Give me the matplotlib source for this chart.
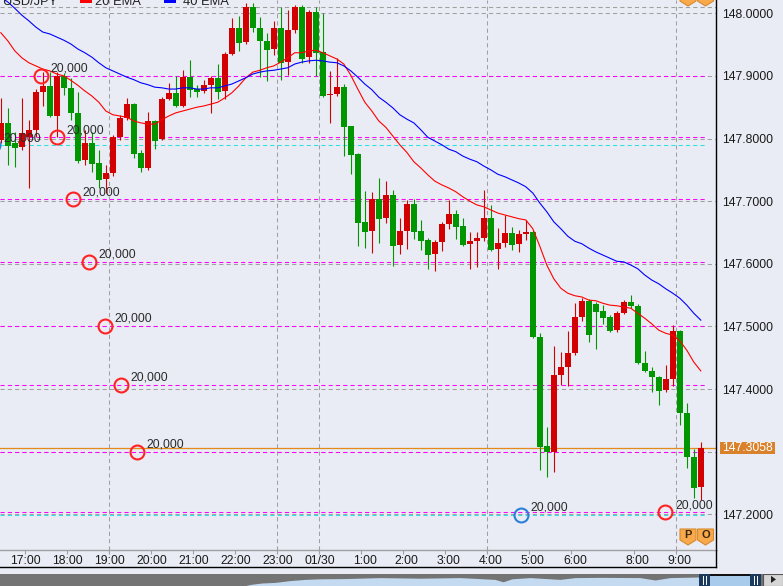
import matplotlib
matplotlib.use('Agg')
import matplotlib.pyplot as plt
import matplotlib.transforms as mtransforms
from matplotlib.patches import Polygon, Rectangle
from matplotlib.lines import Line2D
import numpy as np

plt.rcParams['font.family'] = ['Liberation Sans', 'DejaVu Sans']

# ---- 10 minute USD/JPY candles, 16:20 -> 9:30 (7:00-7:20 has no bars) ----
opens = [
    147.798, 147.825, 147.793, 147.786, 147.802, 147.814, 147.874, 147.884, 147.836, 147.900,
    147.881, 147.841, 147.766, 147.793, 147.761, 147.735, 147.745, 147.802, 147.833, 147.855,
    147.777, 147.753, 147.828, 147.799, 147.863, 147.873, 147.852, 147.898, 147.879, 147.876,
    147.885, 147.897, 147.876, 147.935, 147.976, 147.954, 148.010, 147.976, 147.956, 147.943,
    147.976, 147.922, 147.973, 148.010, 147.930, 148.002, 147.938, 147.870, 147.871, 147.882,
    147.820, 147.775, 147.667, 147.652, 147.703, 147.673, 147.710, 147.630, 147.652, 147.695,
    147.652, 147.638, 147.616, 147.635, 147.664, 147.680, 147.660, 147.632, 147.636, 147.641,
    147.673, 147.624, 147.633, 147.649, 147.632, 147.648, 147.651, 147.483, 147.309, 147.299,
    147.422, 147.435, 147.458, 147.515, 147.541, 147.536, 147.525, 147.515, 147.494, 147.521,
    147.539, 147.533, 147.442, 147.429, 147.419, 147.398, 147.416, 147.493, 147.362, 147.291,
    147.244]
highs = [
    147.865, 147.849, 147.810, 147.865, 147.830, 147.879, 147.906, 147.906, 147.906, 147.905,
    147.897, 147.874, 147.814, 147.810, 147.782, 147.758, 147.806, 147.838, 147.865, 147.857,
    147.782, 147.842, 147.830, 147.866, 147.889, 147.900, 147.909, 147.925, 147.885, 147.893,
    147.900, 147.919, 147.938, 147.992, 147.996, 148.016, 148.016, 147.994, 147.969, 147.988,
    148.010, 148.005, 148.013, 148.013, 148.005, 148.010, 148.000, 147.908, 147.929, 147.887,
    147.820, 147.777, 147.716, 147.715, 147.737, 147.732, 147.718, 147.673, 147.702, 147.703,
    147.670, 147.641, 147.638, 147.667, 147.702, 147.686, 147.673, 147.651, 147.651, 147.718,
    147.694, 147.657, 147.678, 147.659, 147.654, 147.670, 147.654, 147.489, 147.339, 147.469,
    147.459, 147.493, 147.537, 147.545, 147.544, 147.539, 147.534, 147.518, 147.525, 147.542,
    147.550, 147.536, 147.461, 147.435, 147.421, 147.438, 147.502, 147.494, 147.378, 147.304,
    147.315]
lows = [
    147.793, 147.758, 147.755, 147.782, 147.721, 147.802, 147.852, 147.835, 147.802, 147.870,
    147.830, 147.761, 147.758, 147.747, 147.721, 147.713, 147.740, 147.798, 147.830, 147.769,
    147.747, 147.750, 147.783, 147.798, 147.861, 147.850, 147.850, 147.866, 147.866, 147.873,
    147.841, 147.863, 147.863, 147.933, 147.940, 147.951, 147.970, 147.898, 147.892, 147.933,
    147.893, 147.901, 147.969, 147.921, 147.921, 147.900, 147.867, 147.825, 147.868, 147.772,
    147.743, 147.628, 147.625, 147.617, 147.633, 147.665, 147.596, 147.616, 147.624, 147.640,
    147.622, 147.592, 147.588, 147.620, 147.656, 147.640, 147.628, 147.592, 147.595, 147.636,
    147.620, 147.592, 147.627, 147.622, 147.619, 147.638, 147.482, 147.271, 147.260, 147.268,
    147.406, 147.405, 147.454, 147.509, 147.475, 147.464, 147.504, 147.491, 147.491, 147.520,
    147.529, 147.440, 147.427, 147.395, 147.374, 147.395, 147.405, 147.343, 147.274, 147.226,
    147.223]
closes = [
    147.825, 147.788, 147.785, 147.809, 147.814, 147.874, 147.884, 147.836, 147.900, 147.881,
    147.841, 147.764, 147.793, 147.759, 147.734, 147.745, 147.802, 147.833, 147.855, 147.775,
    147.753, 147.828, 147.796, 147.863, 147.873, 147.852, 147.898, 147.878, 147.874, 147.885,
    147.897, 147.874, 147.935, 147.976, 147.953, 148.010, 147.976, 147.956, 147.941, 147.976,
    147.921, 147.973, 148.010, 147.927, 148.002, 147.937, 147.868, 147.871, 147.882, 147.818,
    147.774, 147.665, 147.651, 147.703, 147.672, 147.710, 147.628, 147.652, 147.695, 147.651,
    147.636, 147.614, 147.635, 147.664, 147.680, 147.659, 147.630, 147.636, 147.641, 147.673,
    147.622, 147.633, 147.649, 147.630, 147.648, 147.651, 147.483, 147.307, 147.299, 147.422,
    147.435, 147.458, 147.515, 147.541, 147.486, 147.523, 147.513, 147.493, 147.521, 147.539,
    147.533, 147.442, 147.429, 147.419, 147.397, 147.416, 147.493, 147.362, 147.291, 147.242,
    147.3058]

ema20 = [
    147.969, 147.956, 147.940, 147.929, 147.921, 147.916, 147.911, 147.908, 147.903, 147.900,
    147.893, 147.885, 147.876, 147.868, 147.858, 147.844, 147.838, 147.836, 147.834, 147.828,
    147.825, 147.823, 147.823, 147.830, 147.836, 147.841, 147.844, 147.847, 147.850, 147.852,
    147.855, 147.858, 147.865, 147.873, 147.884, 147.897, 147.906, 147.909, 147.913, 147.916,
    147.922, 147.929, 147.937, 147.937, 147.940, 147.941, 147.937, 147.932, 147.927, 147.919,
    147.901, 147.879, 147.858, 147.844, 147.828, 147.818, 147.804, 147.790, 147.778, 147.763,
    147.753, 147.742, 147.732, 147.726, 147.721, 147.715, 147.707, 147.700, 147.694, 147.691,
    147.686, 147.681, 147.678, 147.675, 147.672, 147.670, 147.656, 147.628, 147.598, 147.576,
    147.561, 147.553, 147.549, 147.547, 147.542, 147.541, 147.537, 147.534, 147.533, 147.531,
    147.529, 147.521, 147.513, 147.504, 147.494, 147.489, 147.486, 147.477, 147.462, 147.443,
    147.429]
ema40 = [
    148.026, 148.018, 148.008, 147.997, 147.988, 147.978, 147.970, 147.967, 147.962, 147.957,
    147.951, 147.943, 147.937, 147.930, 147.921, 147.913, 147.908, 147.903, 147.898, 147.894,
    147.889, 147.886, 147.882, 147.881, 147.879, 147.879, 147.881, 147.881, 147.879, 147.879,
    147.881, 147.881, 147.884, 147.887, 147.892, 147.897, 147.903, 147.906, 147.908, 147.909,
    147.911, 147.913, 147.919, 147.922, 147.924, 147.925, 147.924, 147.922, 147.921, 147.916,
    147.908, 147.898, 147.887, 147.878, 147.866, 147.858, 147.849, 147.838, 147.831, 147.825,
    147.814, 147.802, 147.796, 147.790, 147.783, 147.779, 147.772, 147.767, 147.763, 147.756,
    147.750, 147.743, 147.739, 147.734, 147.729, 147.723, 147.713, 147.697, 147.683, 147.667,
    147.656, 147.644, 147.636, 147.632, 147.625, 147.619, 147.614, 147.609, 147.604, 147.603,
    147.598, 147.592, 147.582, 147.574, 147.568, 147.560, 147.553, 147.545, 147.534, 147.521,
    147.510]

# order lines and fills
sell_levels = [147.900, 147.802, 147.703, 147.603, 147.501, 147.407, 147.300, 147.203]
pos_levels = [147.789, 147.199]
fill_bar = [5.7, 8.0, 10.27, 12.56, 14.84, 17.13, 19.41, 94.9, 74.27, -1.1]
fill_price = [147.900, 147.802, 147.703, 147.603, 147.501, 147.407, 147.300, 147.203, 147.199, 147.789]
fill_side = ['r', 'r', 'r', 'r', 'r', 'r', 'r', 'r', 'b', 'b']
fill_qty = '20,000'

price_ticks = [147.2, 147.3, 147.4, 147.5, 147.6, 147.7, 147.8, 147.9, 148.0]
label_times = ['17:00', '18:00', '19:00', '20:00', '21:00', '22:00', '23:00', '0:00',
               '1:00', '2:00', '3:00', '4:00', '5:00', '6:00', '8:00', '9:00']
grid_times = ['19:00', '23:00', '0:00', '4:00', '9:00']

# navigator strip profile (overview of the whole history)
nav_pos = [0, 243, 252, 262, 275, 290, 305, 320, 345, 380, 420, 460, 495, 503, 512,
           530, 560, 575, 600, 640, 655, 670, 699]
nav_level = [0, 0, 0.15, 0.25, 0.3, 0.45, 0.55, 0.6, 0.62, 0.7, 0.65, 0.7, 0.55, 0.35, 0.6,
             0.7, 0.55, 0.7, 0.72, 0.7, 0.5, 0.7, 0.75]

# bar times
times = []
h, m = 16, 20
while len(times) < len(opens):
    if not (h == 7 and m < 30):
        times.append('%d:%02d' % (h, m))
    m += 10
    if m == 60:
        m = 0
        h = (h + 1) % 24

W, H = 783, 586
PR, PB = 716, 550
BG = '#e9ecf4'
RED, GREEN = '#d20000', '#009600'
PX = 72 / 100.0   # one pixel in points

fig = plt.figure(figsize=(W / 100, H / 100), dpi=100, facecolor=BG)
ax = fig.add_axes([0, (H - PB) / H, PR / W, PB / H], facecolor=BG)
ax.set_xlim(-0.114, 102.17)
ax.set_ylim(147.1430, 148.0212)

for s in ['top', 'left']:
    ax.spines[s].set_visible(False)
ax.spines['bottom'].set_color('#a0a0a0')
ax.spines['right'].set_color('#000000')
ax.spines['bottom'].set_linewidth(1.0)
ax.spines['right'].set_linewidth(1.0)

dash = (0, (4, 3))
for p in price_ticks + [148.0096]:
    ax.axhline(p, color='#a0a0a0', lw=0.75, ls=dash, zorder=1)
for t in grid_times:
    ax.axvline(times.index(t) - 0.5, color='#a0a0a0', lw=0.75, ls=dash, zorder=1)

line_end = 706 / 7.0 - 0.114
for p in sell_levels:
    ax.hlines(p, -0.114, line_end, color='#ff00ff', lw=0.75, ls=dash, zorder=2)
for p in pos_levels:
    ax.hlines(p, -0.114, line_end, color='#30e0e6', lw=0.75, ls=dash, zorder=2)

ax.axhline(closes[-1], color='#e38a1c', lw=0.9, zorder=2.5)

# candles
x = np.arange(len(opens))
o = np.array(opens)
c = np.array(closes)
up = c >= o
colors = np.where(up, RED, GREEN)
ax.vlines(x, lows, highs, colors=colors, lw=0.8, zorder=3)
ax.bar(x, np.maximum(np.abs(c - o), 0.0016), bottom=np.minimum(o, c), width=0.86,
       color=colors, linewidth=0, zorder=3)

ax.plot(x, ema20, color='#ff0000', lw=0.8, zorder=4)
ax.plot(x, ema40, color='#0000ff', lw=0.8, zorder=4)

for fx, fp, sd in zip(fill_bar, fill_price, fill_side):
    col = '#ff2222' if sd == 'r' else '#2a80d8'
    ax.plot([fx], [fp], marker='o', ms=10, mfc='none', mec=col, mew=1.5, zorder=5)
    ax.annotate(fill_qty, (fx, fp), xytext=(10 * PX, 7 * PX), textcoords='offset points',
                ha='left', va='center', fontsize=8.8, color='#2b2b2b', zorder=6,
                annotation_clip=False)

# axes ticks (the 147.3000 label sits under the current price tag)
ax.yaxis.tick_right()
ax.set_yticks(price_ticks)
ax.set_yticklabels(['' if abs(p - closes[-1]) < 0.02 else '%.4f' % p for p in price_ticks])
ax.tick_params(axis='y', length=0, pad=6 * PX, labelsize=8.8, labelcolor='#1a1a1a')
tick_pos = [times.index(t) - 0.5 for t in label_times]
ax.set_xticks(tick_pos)
ax.tick_params(axis='x', length=4 * PX, color='#a0a0a0', labelbottom=False)
for t, tp in zip(label_times, tick_pos):
    lab = '01/30' if t == '0:00' else t
    ax.annotate(lab, (tp, 0), xycoords=('data', 'axes fraction'),
                xytext=(15.5 * PX, -11 * PX), textcoords='offset points',
                ha='right', va='center', fontsize=8.8, color='#1a1a1a',
                annotation_clip=False)

# frame lines below the time labels
yb = (H - 567) / H
fig.add_artist(Line2D([0, PR / W], [yb, yb], transform=fig.transFigure, color='black', lw=1.0))
fig.add_artist(Line2D([PR / W, PR / W], [yb, (H - PB) / H], transform=fig.transFigure,
                      color='black', lw=1.0))

# current price tag
tr = mtransforms.blended_transform_factory(fig.transFigure, ax.transData)
fig.add_artist(Rectangle((720 / W, closes[-1] - 0.0092), 55 / W, 0.0184, transform=tr,
                         fc='#d9822b', ec='none', zorder=5))
fig.text(722 / W, closes[-1], '%.4f' % closes[-1], transform=tr, ha='left', va='center',
         fontsize=8.8, color='white', zorder=6)

# legend
fig.text(3 / W, 1 - 5 / H, 'USD/JPY', fontsize=9.3, color='#222222', va='baseline')
fig.add_artist(Rectangle((80 / W, 1 - 3 / H), 12 / W, 8 / H, transform=fig.transFigure,
                         fc='#ff0000', ec='none'))
fig.text(95 / W, 1 - 5 / H, '20 EMA', fontsize=9.3, color='#222222', va='baseline')
fig.add_artist(Rectangle((164 / W, 1 - 3 / H), 12 / W, 8 / H, transform=fig.transFigure,
                         fc='#0000ff', ec='none'))
fig.text(183 / W, 1 - 5 / H, '40 EMA', fontsize=9.3, color='#222222', va='baseline')


def badge(cx, top, letter):
    pts = [(cx - 8, top), (cx + 8, top), (cx + 8, top + 11), (cx, top + 16), (cx - 8, top + 11)]
    pts = [(px / W, 1 - py / H) for px, py in pts]
    fig.add_artist(Polygon(pts, closed=True, transform=fig.transFigure, fc='#f7a94c',
                           ec='#d98a2c', lw=0.8, zorder=6))
    fig.text(cx / W, 1 - (top + 6.5) / H, letter, ha='center', va='center', fontsize=8,
             fontweight='bold', color='#3a2608', zorder=7)


for cx, letter in [(688, 'P'), (705.5, 'O')]:
    badge(cx, 529, letter)
    badge(cx, -10, letter)

# navigator strip
nav = fig.add_axes([0, 0, 1, 12 / H], facecolor='#747474')
nav.set_xlim(0, W)
nav.set_ylim(0, 1)
nav.axis('off')
nav.add_patch(Rectangle((0, 0), W, 1, fc='#747474', ec='none'))
nav.fill_between(nav_pos, 0, nav_level, color='#c4daf0', lw=0)
nav.add_patch(Rectangle((699, 0), 62, 1, fc='#a9cbeb', ec='none'))
nav.add_patch(Rectangle((710, 0.82), 40, 0.18, fc='#111111', ec='none'))
for bx in (699, 750):
    nav.add_patch(Rectangle((bx, 0), 11, 1, fc='#1b3a5e', ec='none'))
    nav.plot([bx + 4, bx + 4], [0.2, 0.8], color='white', lw=0.7)
    nav.plot([bx + 7, bx + 7], [0.2, 0.8], color='white', lw=0.7)
nav.add_patch(Rectangle((763, 0), 20, 1, fc='#d6d6d6', ec='#555555', lw=0.8))
nav.add_patch(Polygon([(771, 0.25), (771, 0.85), (776, 0.55)], closed=True, fc='#222222'))

fig.savefig('out.png', dpi=100, facecolor=BG)
